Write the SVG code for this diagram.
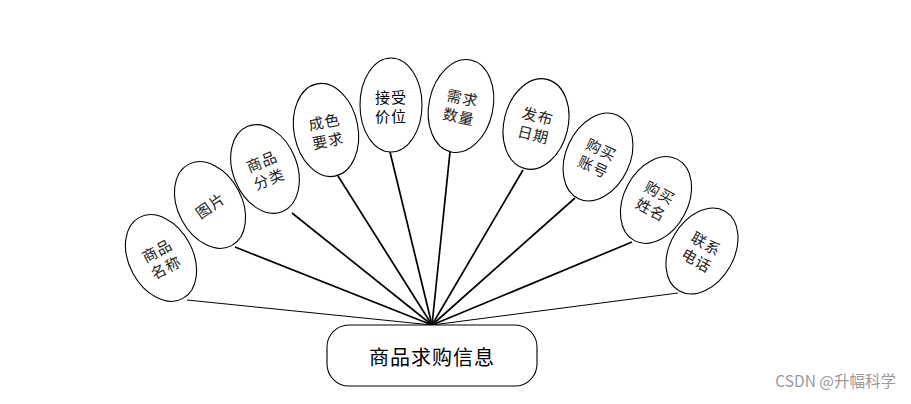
<svg xmlns="http://www.w3.org/2000/svg" width="911" height="404" viewBox="0 0 911 404">
<style>
.e{fill:#fff;stroke:#000;stroke-width:1.1}
.t{font-family:"Noto Sans CJK SC","Noto Sans CJK JP",sans-serif;font-size:15px;fill:#222;text-anchor:middle;dominant-baseline:central;letter-spacing:1px}
.c{stroke:#000;stroke-width:1.7;fill:none}
.cl{stroke:#000;stroke-width:1;fill:none}
</style>
<rect width="911" height="404" fill="#fff"/>
<g id="connectors">
<line class="cl" x1="187" y1="300" x2="432" y2="325"/>
<line class="c" x1="235" y1="247" x2="432" y2="325"/>
<line class="c" x1="292" y1="213" x2="432" y2="325"/>
<line class="c" x1="338" y1="176" x2="432" y2="325"/>
<line class="c" x1="390" y1="152" x2="432" y2="325"/>
<line class="c" x1="450" y1="152" x2="432" y2="325"/>
<line class="c" x1="523" y1="170" x2="432" y2="325"/>
<line class="c" x1="575" y1="198" x2="432" y2="325"/>
<line class="c" x1="632" y1="242" x2="432" y2="325"/>
<line class="cl" x1="678" y1="293" x2="432" y2="325"/>
</g>
<g id="n1" transform="translate(161,258) rotate(-28)">
<ellipse class="e" rx="32" ry="46"/>
<text class="t" y="-9">商品</text><text class="t" y="10">名称</text>
</g>
<g id="n2" transform="translate(210,205) rotate(-28)">
<ellipse class="e" rx="32" ry="46"/>
<text class="t" transform="rotate(-7)">图片</text>
</g>
<g id="n3" transform="translate(265,169) rotate(-22)">
<ellipse class="e" rx="32" ry="46"/>
<text class="t" y="-9">商品</text><text class="t" y="10">分类</text>
</g>
<g id="n4" transform="translate(326,130) rotate(-11)">
<ellipse class="e" rx="32" ry="47"/>
<text class="t" y="-9">成色</text><text class="t" y="10">要求</text>
</g>
<g id="n5" transform="translate(391,105)">
<ellipse class="e" rx="31" ry="47"/>
<text class="t" y="-9" style="fill:#000">接受</text><text class="t" y="10" style="fill:#000">价位</text>
</g>
<g id="n6" transform="translate(461,106) rotate(12)">
<ellipse class="e" rx="32" ry="47"/>
<text class="t" y="-9">需求</text><text class="t" y="10">数量</text>
</g>
<g id="n7" transform="translate(536,124) rotate(14)">
<ellipse class="e" rx="32" ry="46"/>
<text class="t" y="-9">发布</text><text class="t" y="10">日期</text>
</g>
<g id="n8" transform="translate(598,157) rotate(25)">
<ellipse class="e" rx="32" ry="46"/>
<text class="t" y="-9">购买</text><text class="t" y="10">账号</text>
</g>
<g id="n9" transform="translate(656,200) rotate(28)">
<ellipse class="e" rx="32" ry="46"/>
<text class="t" y="-9">购买</text><text class="t" y="10">姓名</text>
</g>
<g id="n10" transform="translate(702,251) rotate(30)">
<ellipse class="e" rx="32" ry="46"/>
<text class="t" y="-9">联系</text><text class="t" y="10">电话</text>
</g>
<g id="center">
<rect x="327" y="325" width="210" height="61" rx="22" fill="#fff" stroke="#000" stroke-width="1.1"/>
<text x="432" y="356" style="font-family:'Noto Sans CJK SC',sans-serif;font-size:20px;fill:#000;text-anchor:middle;dominant-baseline:central;letter-spacing:1px">商品求购信息</text>
</g>
<text x="896" y="387" style="font-family:'Noto Sans CJK SC',sans-serif;font-size:15.5px;fill:#999;text-anchor:end">CSDN @升幅科学</text>
</svg>
